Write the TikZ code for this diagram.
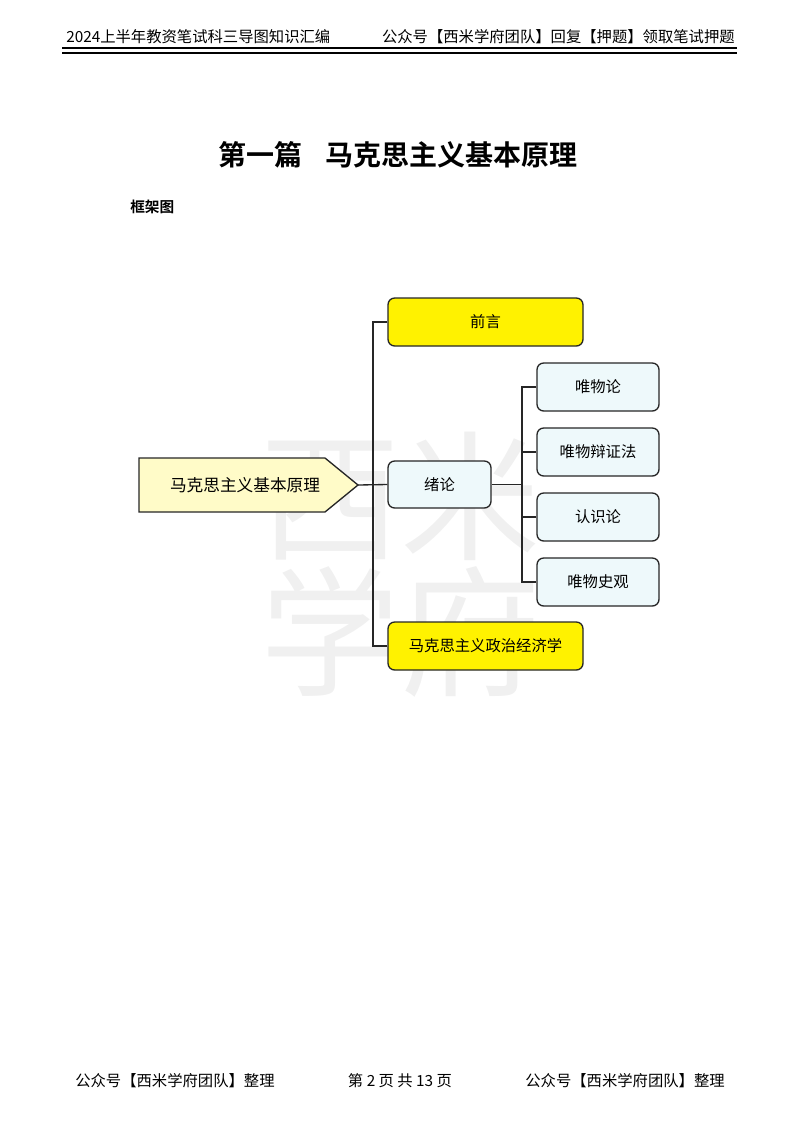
\documentclass[tikz,border=0pt]{standalone}
\usepackage{fontspec}
\newfontfamily\cjk{Noto Sans CJK SC}
\newfontfamily\cjkb{Noto Sans CJK SC Bold}
\usetikzlibrary{shapes.symbols}
\definecolor{ylw}{HTML}{FFF200}
\definecolor{pale}{HTML}{FFFBC8}
\definecolor{ice}{HTML}{EEF9FB}
\tikzset{
 box/.style={draw=black!85,line width=1pt,rounded corners=5pt,inner sep=0pt,font=\cjk\fontsize{11.5}{13}\selectfont},
 ybox/.style={box,fill=ylw},
 bbox/.style={box,fill=ice},
 link/.style={draw=black!85,line width=1pt},
 hdr/.style={font=\cjk\fontsize{11.5}{13}\selectfont,inner sep=0pt}
}
\begin{document}
\begin{tikzpicture}[x=0.75pt,y=-0.75pt]
\useasboundingbox (0,0) rectangle (800,1125);
% header
\node[hdr,anchor=west] (h1) at (66,37) {2024上半年教资笔试科三导图知识汇编};
\node[hdr,anchor=east] (h2) at (735,37) {公众号【西米学府团队】回复【押题】领取笔试押题};
\draw[line width=2.2pt] (62,48) -- (737,48);
\draw[line width=0.8pt] (62,53) -- (737,53);
% watermark
\node[font=\cjk\fontsize{105}{110}\selectfont,text=black!6,align=center,inner sep=0pt] (wm) at (400,565) {西米\\[-8pt]学府};
% title
\node[font=\cjkb\fontsize{21}{24}\selectfont,inner sep=0pt] (t) at (398,155) {第一篇\hspace{0.8em}马克思主义基本原理};
\node[font=\cjkb\fontsize{11}{13}\selectfont,anchor=west,inner sep=0pt] (k) at (130,207) {框架图};
% diagram
\draw[line width=1pt,draw=black!85,fill=pale] (139,458) -- (325,458) -- (358,485) -- (325,512) -- (139,512) -- cycle;
\coordinate (root) at (358,485);
\node[font=\cjk\fontsize{12.5}{14}\selectfont,inner sep=0pt] (rt) at (245,485) {马克思主义基本原理};
\node[ybox,minimum width=195*0.75pt,minimum height=48*0.75pt] (qy) at (485.5,322) {前言};
\node[bbox,minimum width=103*0.75pt,minimum height=47*0.75pt] (xl) at (439.5,484.5) {绪论};
\node[ybox,minimum width=195*0.75pt,minimum height=48*0.75pt] (zz) at (485.5,646) {马克思主义政治经济学};
\node[bbox,minimum width=122*0.75pt,minimum height=48*0.75pt] (c1) at (598,387) {唯物论};
\node[bbox,minimum width=122*0.75pt,minimum height=48*0.75pt] (c2) at (598,452) {唯物辩证法};
\node[bbox,minimum width=122*0.75pt,minimum height=48*0.75pt] (c3) at (598,517) {认识论};
\node[bbox,minimum width=122*0.75pt,minimum height=48*0.75pt] (c4) at (598,582) {唯物史观};
\draw[link] (root) -- (xl.west);
\draw[link] (qy.west) -| (373,485);
\draw[link] (zz.west) -| (373,485);
\draw[link] (xl.east) -- (522,484.5);
\foreach \c in {c1,c2,c3,c4} \draw[link] (\c.west) -| (522,484.5);
% footer
\node[hdr,anchor=west] (f1) at (75,1081) {公众号【西米学府团队】整理};
\node[hdr] (f2) at (400,1081) {第 2 页 共 13 页};
\node[hdr,anchor=east] (f3) at (725,1081) {公众号【西米学府团队】整理};
\end{tikzpicture}
\end{document}
